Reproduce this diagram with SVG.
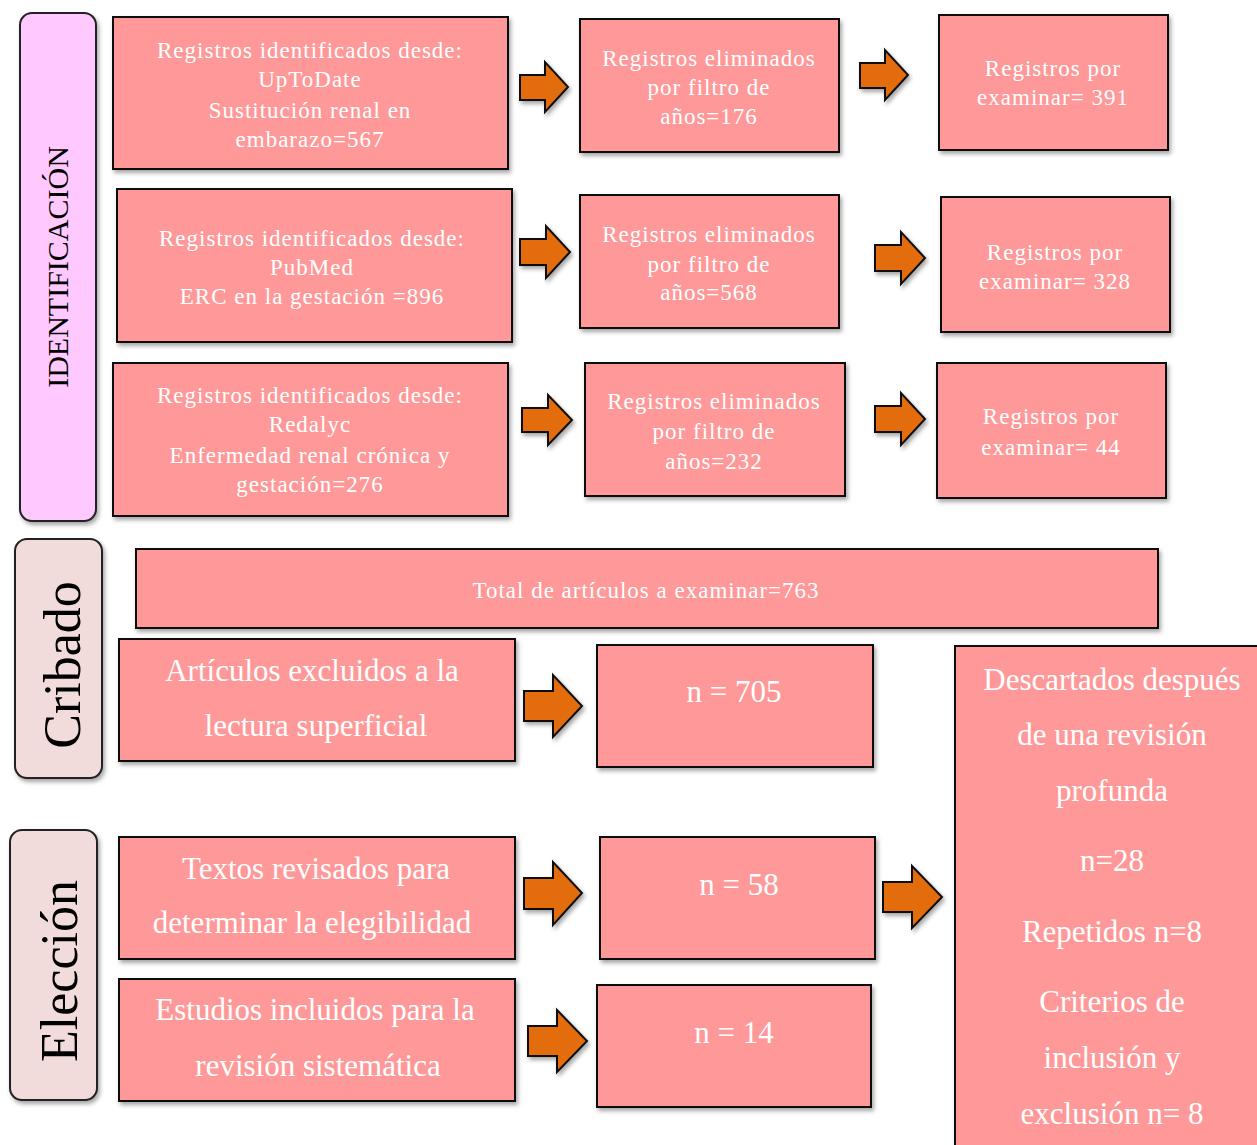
<svg xmlns="http://www.w3.org/2000/svg" width="1257" height="1145" viewBox="0 0 1257 1145">
<defs>
<filter id="sh" x="-5%" y="-5%" width="115%" height="120%">
<feDropShadow dx="2" dy="3" stdDeviation="2" flood-color="#000" flood-opacity="0.35"/>
</filter>
<style>
.box{fill:#FF9999;stroke:#111;stroke-width:2;filter:url(#sh)}
.side{stroke:#222;stroke-width:2;filter:url(#sh)}
.arr{fill:#E36C09;stroke:#111;stroke-width:2;stroke-linejoin:miter;filter:url(#sh)}
.t{font-family:"Liberation Serif","Times New Roman",serif;fill:#fff;text-anchor:middle;dominant-baseline:central}
.s{font-size:23px;letter-spacing:1px}
.l{font-size:31px}
.lab{font-family:"Liberation Serif","Times New Roman",serif;fill:#000;text-anchor:middle}
</style>
</defs>
<rect width="1257" height="1145" fill="#fff"/>

<g id="side-identificacion">
<rect class="side" x="20" y="13" width="76" height="508" rx="12" fill="#FFC8FF"/>
<text class="lab" transform="translate(68,267) rotate(-90)" font-size="30">IDENTIFICACIÓN</text>
</g>
<g id="side-cribado">
<rect class="side" x="15" y="539" width="87" height="239" rx="12" fill="#F2DCDB"/>
<text class="lab" transform="translate(80,665) rotate(-90)" font-size="52">Cribado</text>
</g>
<g id="side-eleccion">
<rect class="side" x="10" y="830" width="87" height="270" rx="12" fill="#F2DCDB"/>
<text class="lab" transform="translate(77,971) rotate(-90)" font-size="52">Elección</text>
</g>

<g id="n-r1a"><rect class="box" x="113" y="17" width="395" height="152"/>
<text class="t s"><tspan x="310" y="50">Registros identificados desde:</tspan><tspan x="310" y="79">UpToDate</tspan><tspan x="310" y="110">Sustitución renal en</tspan><tspan x="310" y="139">embarazo=567</tspan></text></g>
<g id="n-r1b"><rect class="box" x="580" y="19" width="259" height="133"/>
<text class="t s"><tspan x="709" y="58">Registros eliminados</tspan><tspan x="709" y="87">por filtro de</tspan><tspan x="709" y="116">años=176</tspan></text></g>
<g id="n-r1c"><rect class="box" x="939" y="15" width="229" height="135"/>
<text class="t s"><tspan x="1053" y="68">Registros por</tspan><tspan x="1053" y="97">examinar= 391</tspan></text></g>

<g id="n-r2a"><rect class="box" x="117" y="189" width="395" height="153"/>
<text class="t s"><tspan x="312" y="238">Registros identificados desde:</tspan><tspan x="312" y="267">PubMed</tspan><tspan x="312" y="296">ERC en la gestación =896</tspan></text></g>
<g id="n-r2b"><rect class="box" x="580" y="195" width="259" height="133"/>
<text class="t s"><tspan x="709" y="234">Registros eliminados</tspan><tspan x="709" y="264">por filtro de</tspan><tspan x="709" y="292">años=568</tspan></text></g>
<g id="n-r2c"><rect class="box" x="941" y="197" width="229" height="135"/>
<text class="t s"><tspan x="1055" y="252">Registros por</tspan><tspan x="1055" y="281">examinar= 328</tspan></text></g>

<g id="n-r3a"><rect class="box" x="113" y="363" width="395" height="153"/>
<text class="t s"><tspan x="310" y="395">Registros identificados desde:</tspan><tspan x="310" y="424">Redalyc</tspan><tspan x="310" y="455">Enfermedad renal crónica y</tspan><tspan x="310" y="484">gestación=276</tspan></text></g>
<g id="n-r3b"><rect class="box" x="585" y="363" width="260" height="133"/>
<text class="t s"><tspan x="714" y="401">Registros eliminados</tspan><tspan x="714" y="431">por filtro de</tspan><tspan x="714" y="461">años=232</tspan></text></g>
<g id="n-r3c"><rect class="box" x="937" y="363" width="229" height="135"/>
<text class="t s"><tspan x="1051" y="416">Registros por</tspan><tspan x="1051" y="447">examinar= 44</tspan></text></g>

<g id="n-total"><rect class="box" x="136" y="549" width="1022" height="79"/>
<text class="t s" x="646" y="590">Total de artículos a examinar=763</text></g>

<g id="n-excl"><rect class="box" x="119" y="639" width="396" height="122"/>
<text class="t l"><tspan x="312" y="670">Artículos excluidos a la</tspan><tspan x="316" y="725">lectura superficial</tspan></text></g>
<g id="n-705"><rect class="box" x="597" y="645" width="276" height="122"/>
<text class="t l" x="734" y="691">n = 705</text></g>

<g id="n-textos"><rect class="box" x="119" y="837" width="396" height="122"/>
<text class="t l"><tspan x="316" y="868">Textos revisados para</tspan><tspan x="312" y="922">determinar la elegibilidad</tspan></text></g>
<g id="n-58"><rect class="box" x="600" y="837" width="275" height="122"/>
<text class="t l" x="739" y="884">n = 58</text></g>

<g id="n-estudios"><rect class="box" x="119" y="979" width="396" height="122"/>
<text class="t l"><tspan x="315" y="1009">Estudios incluidos para la</tspan><tspan x="318" y="1065">revisión sistemática</tspan></text></g>
<g id="n-14"><rect class="box" x="597" y="985" width="274" height="122"/>
<text class="t l" x="734" y="1032">n = 14</text></g>

<g id="n-descartados"><rect class="box" x="955" y="646" width="310" height="510"/>
<text class="t l"><tspan x="1112" y="679">Descartados después</tspan><tspan x="1112" y="734">de una revisión</tspan><tspan x="1112" y="790">profunda</tspan><tspan x="1112" y="860">n=28</tspan><tspan x="1112" y="931">Repetidos n=8</tspan><tspan x="1112" y="1001">Criterios de</tspan><tspan x="1112" y="1057">inclusión y</tspan><tspan x="1112" y="1113">exclusión n= 8</tspan></text></g>

<g id="connectors">
<path class="arr" d="M520,75 H545 V62 L568,87 L545,112 V100 H520 Z"/>
<path class="arr" d="M860,63 H885 V50 L908,75 L885,100 V88 H860 Z"/>
<path class="arr" d="M520,239 H546 V226 L570,252 L546,278 V265 H520 Z"/>
<path class="arr" d="M875,245 H901 V232 L925,258 L901,284 V271 H875 Z"/>
<path class="arr" d="M522,408 H548 V395 L572,420 L548,445 V432 H522 Z"/>
<path class="arr" d="M875,406 H901 V393 L925,419 L901,445 V432 H875 Z"/>
<path class="arr" d="M524,691 H553 V675 L582,706 L553,737 V721 H524 Z"/>
<path class="arr" d="M524,878 H553 V862 L582,893 L553,925 V909 H524 Z"/>
<path class="arr" d="M883,882 H912 V866 L942,897 L912,928 V912 H883 Z"/>
<path class="arr" d="M528,1026 H557 V1010 L587,1041 L557,1072 V1056 H528 Z"/>
</g>
</svg>
